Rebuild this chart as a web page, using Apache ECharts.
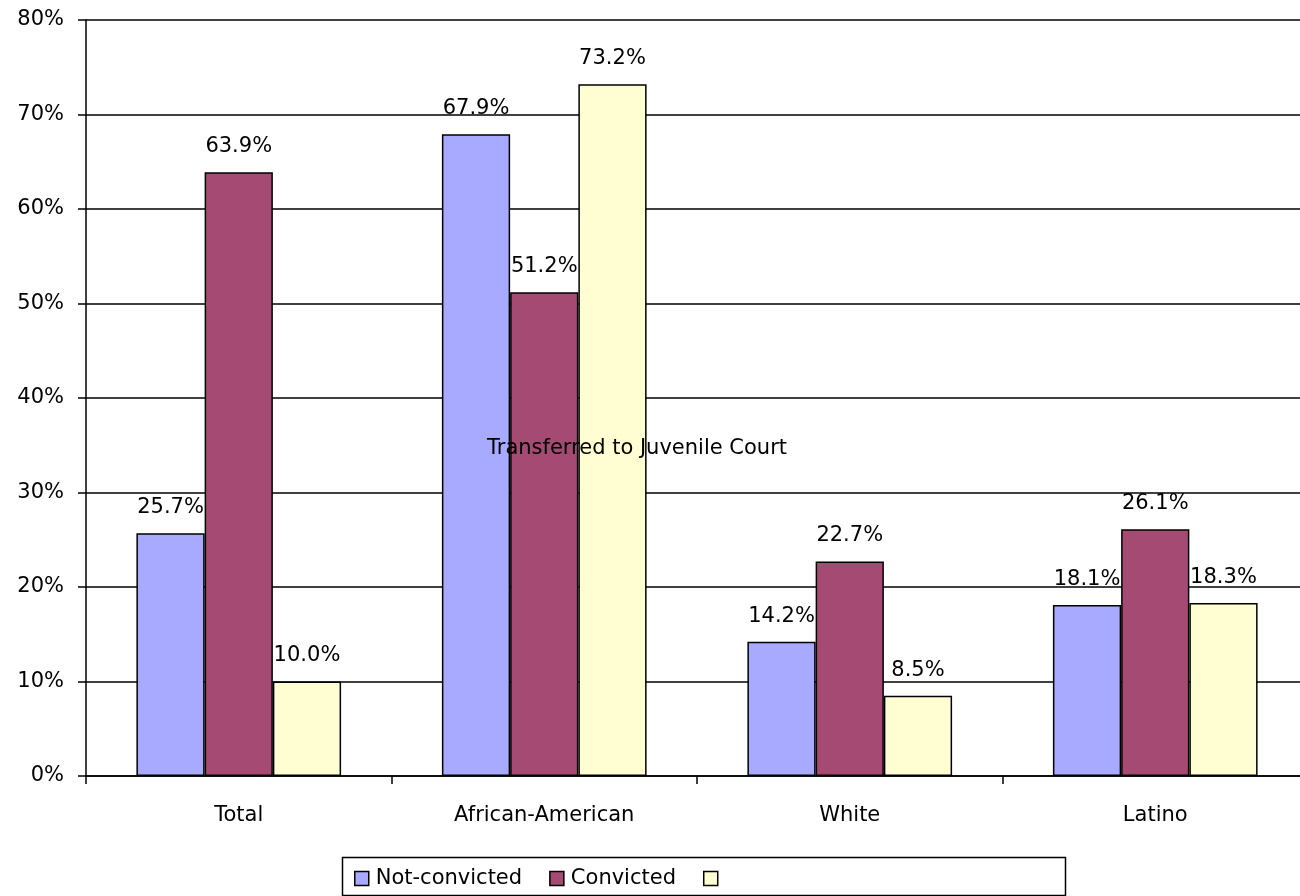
<!DOCTYPE html>
<html>
<head>
<meta charset="utf-8">
<script src="https://cdn.jsdelivr.net/npm/echarts@6/dist/echarts.min.js"></script>
<style>html,body{margin:0;padding:0;background:#fff;overflow:hidden;}#c{width:1310px;height:896px;}</style>
</head>
<body>
<div id="c"></div>
<script>
const categories = ['Total', 'African-American', 'White', 'Latino'];
const seriesNames = ['Not-convicted', 'Convicted', ' '];
const notConvicted = [25.7, 67.9, 14.2, 18.1];
const convicted = [63.9, 51.2, 22.7, 26.1];
const transferred = [10.0, 73.2, 8.5, 18.3];
const yTicks = [0, 10, 20, 30, 40, 50, 60, 70, 80];
const overlayText = 'Transferred to Juvenile Court';

const FONT = 'DejaVu Sans';
const FS = 21;
const colors = ['#A8AAFF', '#A54A72', '#FFFDD2'];
const chart = echarts.init(document.getElementById('c'));
function mk(name, data, color) {
  return {
    name: name, type: 'bar', data: data, barGap: 0, barCategoryGap: '33%',
    itemStyle: { color: color, borderColor: '#000', borderWidth: 1.5 },
    label: { show: true, position: 'top', distance: 15, color: '#000', fontFamily: FONT, fontSize: FS,
      formatter: p => p.value.toFixed(1) + '%' },
    emphasis: { disabled: true }, animation: false
  };
}
chart.setOption({
  animation: false,
  textStyle: { fontFamily: FONT },
  grid: { left: 86, top: 20, right: 2, bottom: 120, containLabel: false },
  xAxis: {
    type: 'category', data: categories,
    axisLine: { lineStyle: { color: '#000', width: 1.5 } },
    axisTick: { show: true, length: 8, lineStyle: { color: '#000', width: 1.5 } },
    axisLabel: { color: '#000', fontFamily: FONT, fontSize: FS, margin: 29 }
  },
  yAxis: {
    type: 'value', min: yTicks[0], max: yTicks[yTicks.length - 1], interval: 10,
    axisLine: { show: true, lineStyle: { color: '#000', width: 1.5 } },
    axisTick: { show: true, length: 8, lineStyle: { color: '#000', width: 1.5 } },
    splitLine: { show: true, lineStyle: { color: '#000', width: 1.5 } },
    axisLabel: { color: '#000', fontFamily: FONT, fontSize: FS, margin: 22, formatter: '{value}%' }
  },
  legend: {
    data: seriesNames, left: 349, top: 863, orient: 'horizontal',
    icon: 'rect', itemWidth: 14, itemHeight: 14, itemGap: 27,
    itemStyle: { borderColor: '#000', borderWidth: 1.5 },
    textStyle: { color: '#000', fontFamily: FONT, fontSize: FS, padding: [0, 0, 0, 2] }
  },
  graphic: [
    { type: 'rect', left: 340, top: 855, shape: { width: 723, height: 38 },
      style: { fill: 'none', stroke: '#000', lineWidth: 1.5 }, z: 0 },
    { type: 'text', left: 487, top: 438, z: 100,
      style: { text: overlayText, fill: '#000', font: FS + 'px "DejaVu Sans"' } }
  ],
  series: [mk(seriesNames[0], notConvicted, colors[0]), mk(seriesNames[1], convicted, colors[1]), mk(seriesNames[2], transferred, colors[2])]
});
</script>
</body>
</html>
